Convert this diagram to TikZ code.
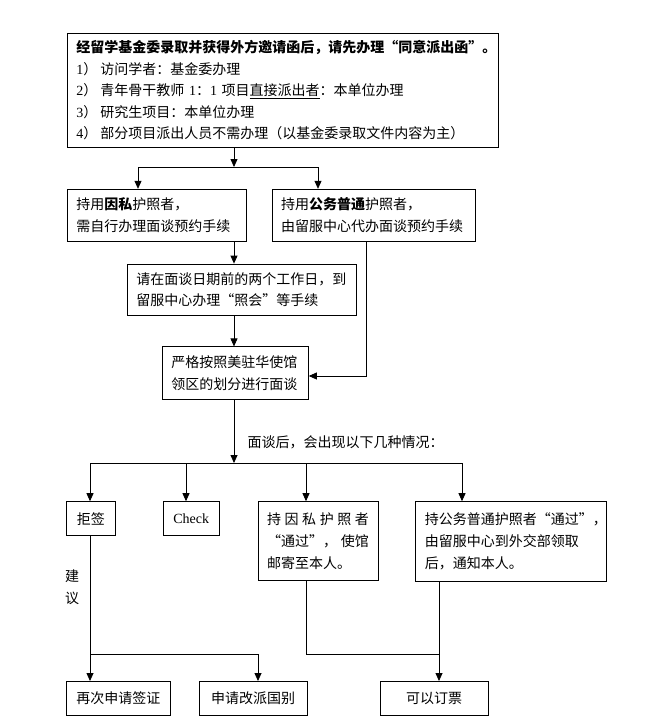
\documentclass[tikz,border=0pt]{standalone}
\usepackage{fontspec}
\setmainfont{Noto Sans CJK SC}
\newfontfamily\latin{Liberation Serif}
\usepackage{tikz}
\usetikzlibrary{positioning,arrows.meta}
\newcommand\fsz{\fontsize{14pt}{21.5pt}\selectfont}
\newcommand\fszb{\fontsize{14pt}{22pt}\selectfont}
\tikzset{
	>={Triangle[length=8pt,width=7pt]}, % filled arrow heads
	node distance=22pt, % default gap between two boxes
	every path/.style={line width=0.8pt},
}

\begin{document}
\begin{tikzpicture}[
	x=1pt, y=-1pt,
	box/.style={draw, line width=0.8pt, inner sep=0pt, font=\fsz},
	textbox/.style={box, align=left, inner xsep=9pt},
	smallbox/.style={box, align=center, font=\fszb, minimum height=34pt},
	]
	\useasboundingbox (0,0) rectangle (664,717);
	%Nodes
	\node[textbox, text width=413pt, minimum height=114pt, anchor=north west] (top) at (67,33)
		{\textbf{经留学基金委录取并获得外方邀请函后，请先办理“同意派出函”。}\\
		 {\latin 1}）\hspace{3pt}访问学者：基金委办理\\
		 {\latin 2}）\hspace{3pt}青年骨干教师 {\latin 1}：{\latin 1} 项目\underline{直接派出者}：本单位办理\\
		 {\latin 3}）\hspace{3pt}研究生项目：本单位办理\\
		 {\latin 4}）\hspace{3pt}部分项目派出人员不需办理（以基金委录取文件内容为主）};

	\node[textbox, text width=161pt, minimum height=52pt] (yinsi) [below right=41pt and 0pt of top.south west]
		{持用\textbf{因私}护照者，\\需自行办理面谈预约手续};
	\node[textbox, text width=185pt, minimum height=52pt] (gongwu) [right=25pt of yinsi]
		{持用\textbf{公务普通}护照者，\\由留服中心代办面谈预约手续};
	\node[textbox, text width=211pt, minimum height=51pt] (zhaohui) [below right=22pt and 60pt of yinsi.south west]
		{请在面谈日期前的两个工作日，到\\留服中心办理“照会”等手续};
	\node[textbox, text width=128pt, minimum height=53pt] (mianta) [below right=31pt and 35pt of zhaohui.south west]
		{严格按照美驻华使馆\\领区的划分进行面谈};

	\node[smallbox, minimum width=49pt] (jujian) [below right=101pt and -96pt of mianta.south west] {拒签};
	\node[smallbox, minimum width=56pt, font=\latin\fszb] (check) [right=47pt of jujian] {Check};
	\node[textbox, text width=102pt, minimum height=79pt, font=\fszb] (tongguo1) [below right=0pt and 38pt of check.north east]
		{\makebox[102pt][s]{持\hfill 因\hfill 私\hfill 护\hfill 照\hfill 者}\\
		 \makebox[102pt][s]{“通过”，\hfill 使馆}\\
		 邮寄至本人。};
	\node[textbox, text width=173pt, minimum height=80pt, font=\fszb] (tongguo2) [below right=0pt and 37pt of tongguo1.north east]
		{持公务普通护照者“通过”，\\由留服中心到外交部领取\\后，通知本人。};

	\node[smallbox, minimum width=104pt] (zaici) [below right=145pt and 0pt of jujian.south west] {再次申请签证};
	\node[smallbox, minimum width=108pt] (gaipai) [right=28pt of zaici] {申请改派国别};
	\node[smallbox, minimum width=108pt] (dingpiao) [right=72pt of gaipai] {可以订票};

	\node[font=\fszb, anchor=west] (after) at (244,442) {面谈后，会出现以下几种情况：};
	\node[font=\fszb, align=center] (advice) at (72,587) {建\\议};

	%Junctions
	\coordinate (forkA) at (234,167);
	\coordinate (leftA) at (138,167);
	\coordinate (rightA) at (318,167);
	\coordinate (bendA) at (366,376);
	\coordinate (forkB) at (234,463);
	\coordinate (checkB) at (186,463);
	\coordinate (passB) at (306,463);
	\coordinate (officialB) at (462,463);
	\coordinate (forkC) at (90,654);
	\coordinate (changeC) at (258,654);
	\coordinate (ticketC) at (439,654);

	%Lines
	\draw[->] (top.south -| forkA) -- (forkA);
	\draw[->] (forkA) -| (yinsi.north -| leftA);
	\draw[->] (forkA) -| (gongwu.north -| rightA);
	\draw[->] (yinsi.south -| forkA) -- (zhaohui.north -| forkA);
	\draw[->] (zhaohui.south -| forkA) -- (mianta.north -| forkA);
	\draw[->] (gongwu.south -| bendA) |- (mianta.east |- bendA);
	\draw[->] (mianta.south -| forkB) -- (forkB);
	\draw[->] (forkB) -| (jujian.north -| forkC);
	\draw[->] (forkB) -| (check.north -| checkB);
	\draw[->] (forkB) -| (tongguo1.north -| passB);
	\draw[->] (forkB) -| (tongguo2.north -| officialB);
	\draw[->] (jujian.south -| forkC) -- (zaici.north -| forkC);
	\draw[->] (forkC) -| (gaipai.north -| changeC);
	\draw (tongguo1.south -| passB) |- (ticketC);
	\draw[->] (tongguo2.south -| ticketC) -- (dingpiao.north -| ticketC);
\end{tikzpicture}
\end{document}
